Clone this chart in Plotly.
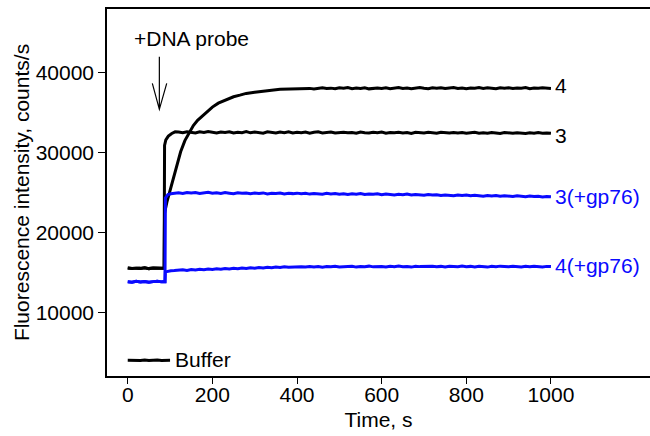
"""Fluorescence time course after DNA probe addition."""
import plotly.graph_objects as go

FONT = "Liberation Sans, Arial, sans-serif"
FONT_SIZE = 21
BLUE = "#0a0aff"

# time grids (s)
t_pre = [0, 10, 20, 30, 40, 50, 60, 70, 80]
t_late = list(range(120, 1001, 10))
t_4_late = list(range(410, 1001, 10))
t_buffer = [0, 10, 20, 30, 40, 50, 60, 70, 80, 90, 100]

# baselines before probe addition
black_pre = [15540, 15470, 15520, 15490, 15560, 15460, 15530, 15480, 15510]
blue_pre = [13820, 13760, 13870, 13790, 13850, 13740, 13830, 13880, 13800]

# curve 3 (no gp76)
t_3_jump = [86, 87, 90, 96, 104, 112]
y_3_jump = [15500, 30900, 31600, 32070, 32400, 32600]
y_3_late = [
    32580, 32490, 32620, 32540, 32470, 32600, 32510, 32640, 32530,
    32470, 32590, 32520, 32610, 32450, 32560, 32500, 32630, 32480, 32570,
    32520, 32440, 32600, 32530, 32470, 32580, 32500, 32620, 32460, 32550,
    32490, 32570, 32430, 32540, 32600, 32470, 32520, 32580, 32450, 32530,
    32560, 32480, 32520, 32430, 32590, 32500, 32460, 32550, 32490, 32570,
    32440, 32520, 32480, 32560, 32470, 32530, 32410, 32550, 32500, 32460,
    32540, 32480, 32420, 32560, 32490, 32450, 32530, 32470, 32510, 32430,
    32490, 32550, 32440, 32500, 32420, 32530, 32470, 32400, 32510, 32460,
    32430, 32500, 32450, 32390, 32480, 32420, 32510, 32440, 32470, 32420,
]

# curve 4 (no gp76)
t_4_rise = [86, 87, 93, 100, 108, 116, 125, 135, 145, 155, 165, 175, 187,
            200, 214, 230, 250, 265, 280, 300, 320, 340, 360, 380, 400]
y_4_rise = [15500, 22400, 23900, 25300, 27000, 28600, 30100, 31500, 32500,
            33400, 34050, 34550, 35100, 35700, 36200, 36550, 37000, 37200,
            37420, 37560, 37720, 37830, 37930, 37960, 38010]
y_4_late = [
    38020, 38110, 38050, 37980, 38090, 38140, 38030, 38080, 38000, 38120,
    38060, 38150, 38010, 38090, 38040, 38130, 37990, 38070, 38110, 38050,
    38140, 38020, 38080, 38160, 38040, 38100, 38010, 38090, 38150, 38060,
    38000, 38120, 38070, 38140, 38030, 38090, 38160, 38050, 38110, 38020,
    38100, 38060, 38150, 38030, 38120, 38080, 38010, 38130, 38070, 38140,
    38040, 38110, 38070, 38150, 38020, 38100, 38060, 38130, 38080, 38050,
]

# curve 3(+gp76)
t_blue_jump = [88, 89, 95, 102, 110]
y_3gp_jump = [13800, 24300, 24750, 24850, 24920]
y_3gp_late = [
    24960, 24880, 25010, 24930, 24990, 24870, 24970, 25020, 24900,
    24960, 24880, 24990, 24920, 24850, 24970, 24900, 24950, 24860, 24930,
    24880, 24950, 24830, 24910, 24870, 24940, 24820, 24900, 24860, 24920,
    24840, 24900, 24800, 24880, 24850, 24780, 24890, 24820, 24860, 24790,
    24850, 24760, 24830, 24790, 24870, 24740, 24810, 24770, 24840, 24720,
    24800, 24750, 24690, 24780, 24720, 24810, 24680, 24760, 24710, 24650,
    24740, 24680, 24720, 24630, 24700, 24660, 24590, 24690, 24620, 24670,
    24580, 24650, 24600, 24540, 24630, 24570, 24610, 24520, 24590, 24550,
    24500, 24580, 24520, 24470, 24550, 24490, 24530, 24450, 24510, 24470,
]

# curve 4(+gp76)
y_4gp_jump = [13800, 15050, 15150, 15200, 15230]
y_4gp_late = [
    15260, 15330, 15240, 15350, 15300, 15380, 15320, 15400, 15350,
    15430, 15380, 15470, 15420, 15500, 15450, 15540, 15480, 15560, 15520,
    15600, 15550, 15630, 15580, 15660, 15600, 15690, 15620, 15670, 15640,
    15700, 15650, 15730, 15670, 15720, 15640, 15710, 15680, 15750, 15660,
    15720, 15690, 15760, 15650, 15730, 15700, 15770, 15680, 15740, 15710,
    15660, 15750, 15700, 15780, 15690, 15730, 15650, 15760, 15710, 15740,
    15680, 15770, 15700, 15740, 15660, 15750, 15720, 15690, 15780, 15700,
    15740, 15670, 15760, 15710, 15650, 15750, 15690, 15770, 15720, 15680,
    15750, 15700, 15660, 15740, 15690, 15760, 15710, 15670, 15740, 15720,
]

# buffer only
y_buffer = [3980, 3940, 3990, 3950, 4000, 3930, 3970, 4010, 3950, 3990, 3960]

labels = ["4", "3", "3(+gp76)", "4(+gp76)"]
label_y = [38460, 32200, 24470, 15800]
label_colors = ["black", "black", BLUE, BLUE]

series = [
    (t_pre + t_4_rise + t_4_late, black_pre + y_4_rise + y_4_late, "black"),
    (t_pre + t_3_jump + t_late, black_pre + y_3_jump + y_3_late, "black"),
    (t_pre + t_blue_jump + t_late, blue_pre + y_3gp_jump + y_3gp_late, BLUE),
    (t_pre + t_blue_jump + t_late, blue_pre + y_4gp_jump + y_4gp_late, BLUE),
    (t_buffer, y_buffer, "black"),
]

fig = go.Figure()
for x, y, color in series:
    fig.add_trace(go.Scatter(x=x, y=y, mode="lines",
                             line=dict(color=color, width=3),
                             showlegend=False))

annotations = []
for text, y, color in zip(labels, label_y, label_colors):
    annotations.append(dict(x=1005, y=y, text=text, showarrow=False,
                            xanchor="left", yanchor="middle",
                            font=dict(size=FONT_SIZE, color=color)))
annotations.append(dict(x=107, y=4030, text="Buffer", showarrow=False,
                        xanchor="left", yanchor="middle",
                        font=dict(size=FONT_SIZE, color="black")))
annotations.append(dict(x=151, y=44300, text="+DNA probe", showarrow=False,
                        xanchor="center", yanchor="middle",
                        font=dict(size=FONT_SIZE, color="black")))

# open-headed arrow marking the probe addition
arrow = dict(type="path", xref="x", yref="y",
             path="M 74.7,42000 L 74.7,35420 M 58.1,38670 L 74.7,35420 L 92.1,38670",
             line=dict(color="black", width=1.2))

fig.update_layout(
    width=650,
    height=436,
    margin=dict(l=107, r=0, t=9, b=60),
    paper_bgcolor="white",
    plot_bgcolor="white",
    font=dict(family=FONT, size=FONT_SIZE, color="black"),
    annotations=annotations,
    shapes=[arrow],
)
fig.update_xaxes(
    range=[-49, 1234],
    tickvals=[0, 200, 400, 600, 800, 1000],
    ticks="outside", ticklen=6, tickcolor="black", ticklabelstandoff=-7,
    showline=True, linecolor="black", linewidth=1.5, mirror=True,
    showgrid=False, zeroline=False, automargin=False,
    title=dict(text="Time, s", standoff=7, font=dict(size=FONT_SIZE)),
)
fig.update_yaxes(
    range=[2000, 48000],
    tickvals=[10000, 20000, 30000, 40000], tickformat="d",
    ticks="outside", ticklen=7, tickcolor="black",
    showline=True, linecolor="black", linewidth=1.5,
    showgrid=False, zeroline=False, automargin=False,
    title=dict(text="Fluorescence intensity, counts/s", standoff=0,
               font=dict(size=FONT_SIZE)),
)

# drop the default page margin so the figure sits at the window corner
fig.write_html("out.html", config={"displayModeBar": False},
               post_script="document.body.style.margin='0';")
